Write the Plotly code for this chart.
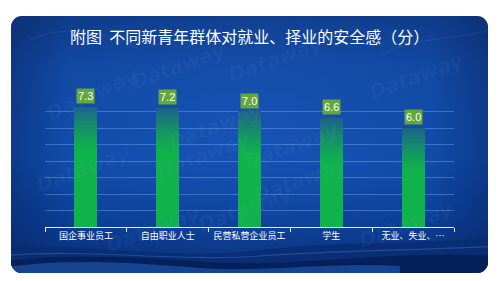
import base64
import plotly.graph_objects as go

# ---- data ----
categories = ["国企事业员工", "自由职业人士", "民营私营企业员工", "学生", "无业、失业、…"]
values = [7.3, 7.2, 7.0, 6.6, 6.0]
value_labels = ["7.3", "7.2", "7.0", "6.6", "6.0"]
title_text = "附图  不同新青年群体对就业、择业的安全感（分）"

W, H = 500, 281
ML, MR, MT, MB = 45, 46, 95, 54
PW, PH = W - ML - MR, H - MT - MB

# ---- background (decoration) as inline SVG ----
svg = f'''<svg xmlns="http://www.w3.org/2000/svg" width="{W}" height="{H}" viewBox="0 0 {W} {H}">
<defs>
<linearGradient id="bg" x1="0" y1="0" x2="0" y2="1">
<stop offset="0" stop-color="#0f3c8a"/>
<stop offset="0.2" stop-color="#1147a0"/>
<stop offset="0.55" stop-color="#0f4aa8"/>
<stop offset="0.8" stop-color="#0b3d93"/>
<stop offset="1" stop-color="#0a2f78"/>
</linearGradient>
<radialGradient id="hl" cx="0.5" cy="0.45" r="0.55">
<stop offset="0" stop-color="#1d5cc2" stop-opacity="0.55"/>
<stop offset="1" stop-color="#1d5cc2" stop-opacity="0"/>
</radialGradient>
<linearGradient id="side" x1="0" y1="0" x2="1" y2="0">
<stop offset="0" stop-color="#061d55" stop-opacity="0.35"/>
<stop offset="0.12" stop-color="#061d55" stop-opacity="0"/>
<stop offset="0.88" stop-color="#061d55" stop-opacity="0"/>
<stop offset="1" stop-color="#061d55" stop-opacity="0.35"/>
</linearGradient>
<clipPath id="cp"><rect x="11" y="16" width="477" height="257" rx="11" ry="11"/></clipPath>
</defs>
<rect width="{W}" height="{H}" fill="#ffffff"/>
<g clip-path="url(#cp)">
<rect x="11" y="16" width="477" height="257" fill="url(#bg)"/>
<rect x="11" y="16" width="477" height="257" fill="url(#hl)"/>
<rect x="11" y="16" width="477" height="257" fill="url(#side)"/>
<path d="M0 248 C80 240 160 262 260 250 C340 240 420 246 500 236 L500 281 L0 281 Z" fill="#0a2d72" opacity="0.9"/>
<path d="M0 262 C70 252 140 258 210 262 C300 268 380 250 500 256 L500 281 L0 281 Z" fill="#06205a"/>
<path d="M0 268 C60 258 130 262 200 268 C260 273 330 262 400 266 L400 281 L0 281 Z" fill="#1a50a6" opacity="0.75"/>
<path d="M0 256 C90 248 170 262 260 256 C330 251 420 250 500 246" stroke="#3a74cc" stroke-width="1.2" fill="none" opacity="0.45"/>
<path d="M30 40 C60 25 110 30 140 50" stroke="#5a86d0" stroke-width="1" fill="none" opacity="0.2"/>
<path d="M380 55 C420 35 460 40 488 30" stroke="#5a86d0" stroke-width="1" fill="none" opacity="0.2"/>
</g>
</svg>'''
svg_uri = "data:image/svg+xml;base64," + base64.b64encode(svg.encode()).decode()

fig = go.Figure()

BAR_W = 0.28
GRAD_DEPTH = 2.7
N_SLICES = 18
top_rgb = (28, 98, 140)
green_rgb = (16, 178, 76)

# solid lower part of each bar
fig.add_trace(go.Bar(
    x=categories, y=[v - GRAD_DEPTH for v in values], base=[0] * len(values),
    width=BAR_W, marker=dict(color="rgb(16,178,76)", line=dict(width=0)),
    hoverinfo="skip", showlegend=False))

# gradient slices at the top of each bar
step = GRAD_DEPTH / N_SLICES
for i in range(N_SLICES):
    t = (i + 0.5) / N_SLICES  # 0 at bottom of gradient, 1 at top
    f = t ** 1.3
    c = tuple(round(green_rgb[k] + (top_rgb[k] - green_rgb[k]) * f) for k in range(3))
    fig.add_trace(go.Bar(
        x=categories, y=[step * 1.02] * len(values),
        base=[v - GRAD_DEPTH + i * step for v in values],
        width=BAR_W, marker=dict(color=f"rgb{c}", line=dict(width=0)),
        hoverinfo="skip", showlegend=False))

# value labels
for cat, v, lab in zip(categories, values, value_labels):
    fig.add_annotation(x=cat, y=v, text=lab, showarrow=False, yanchor="bottom",
                       yshift=3, bgcolor="#64a83c", borderpad=1,
                       font=dict(family="Liberation Sans, Arial", size=11, color="white"))

# title
fig.add_annotation(xref="paper", yref="paper", x=(249 - ML) / PW, y=(H - MB - 36) / PH,
                   text=title_text, showarrow=False, xanchor="center", yanchor="middle",
                   font=dict(family="Noto Sans CJK SC", size=16, color="white"))

# faint watermarks
wm = [(40, 60, -25), (125, 35, -20), (275, 28, -20), (470, 45, -20),
      (215, 95, -20), (150, 155, -20), (345, 115, -20), (300, 180, -20),
      (100, 260, -20), (245, 240, -20), (460, 255, -20), (30, 200, -20)]
for (px, py, ang) in wm:
    fig.add_annotation(xref="paper", yref="paper", x=(px - ML) / PW, y=(H - MB - py) / PH,
                       text="<b><i>Dataway</i></b>", showarrow=False, textangle=ang,
                       font=dict(family="DejaVu Sans", size=20, color="rgba(150,180,235,0.06)"))

fig.add_layout_image(dict(source=svg_uri, xref="paper", yref="paper",
                          x=-ML / PW, y=1 + MT / PH, sizex=W / PW, sizey=H / PH,
                          xanchor="left", yanchor="top", sizing="stretch", layer="below"))

fig.update_layout(
    width=W, height=H, margin=dict(l=ML, r=MR, t=MT, b=MB, pad=0),
    paper_bgcolor="white", plot_bgcolor="rgba(0,0,0,0)",
    barmode="overlay", bargap=0, showlegend=False,
    xaxis=dict(type="category", showline=True, linecolor="#e8eef8", linewidth=1,
               ticks="outside", ticklen=4, tickcolor="#e8eef8", tickson="boundaries",
               showgrid=False, tickfont=dict(family="Noto Sans CJK SC", size=9, color="white"),
               fixedrange=True),
    yaxis=dict(range=[0, 8], dtick=1, showgrid=True, gridcolor="rgba(140,175,235,0.4)",
               gridwidth=1, zeroline=False, showticklabels=False, showline=False,
               fixedrange=True),
)

fig.write_html("out.html")
